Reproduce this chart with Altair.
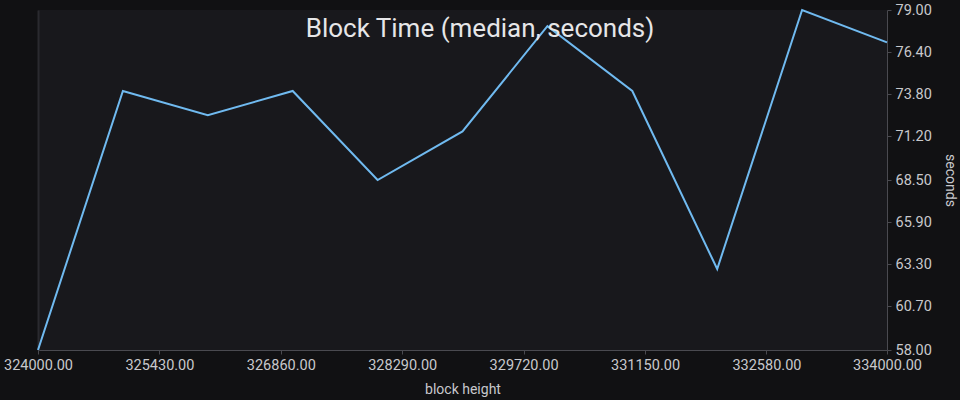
import altair as alt
import pandas as pd

block_height = [324000, 325000, 326000, 327000, 328000, 329000, 330000, 331000, 332000, 333000, 334000]
median_seconds = [58.0, 74.0, 72.5, 74.0, 68.5, 71.5, 78.0, 74.0, 63.0, 79.0, 77.0]
x_ticks = [324000, 325430, 326860, 328290, 329720, 331150, 332580, 334000]
y_ticks = [58.0, 60.7, 63.3, 65.9, 68.5, 71.2, 73.8, 76.4, 79.0]
chart_title = ["Block Time (median, seconds)"]

df = pd.DataFrame({"block": block_height, "seconds": median_seconds})
title_df = pd.DataFrame({"title": chart_title})

FONT = "Roboto"
LABEL = "#c8c8cc"
AXIS_LINE = "#4a4a50"
PAGE_BG = "#111113"

base = alt.Chart(df)

line = base.mark_line(color="#70baf0", strokeWidth=2).encode(
    x=alt.X(
        "block:Q",
        scale=alt.Scale(domain=[324000, 334000], nice=False, zero=False),
        axis=alt.Axis(
            values=x_ticks, format=".2f", title="block height",
            grid=False, domainColor=AXIS_LINE, tickColor=AXIS_LINE, tickSize=4,
            labelColor=LABEL, labelFontSize=14.5, labelFont=FONT, labelPadding=4,
            titleColor=LABEL, titleFontSize=14, titleFont=FONT, titleFontWeight="normal",
            titlePadding=11, labelFlush=False, labelOverlap=False,
        ),
    ),
    y=alt.Y(
        "seconds:Q",
        scale=alt.Scale(domain=[58, 79], nice=False, zero=False),
        axis=alt.Axis(
            orient="right", values=y_ticks, format=".2f", title="seconds",
            grid=False, domainColor=AXIS_LINE, tickColor=AXIS_LINE, tickSize=4,
            labelColor=LABEL, labelFontSize=14.5, labelFont=FONT, labelPadding=4,
            titleColor=LABEL, titleFontSize=14, titleFont=FONT, titleFontWeight="normal",
            titlePadding=11, labelFlush=False, labelOverlap=False,
        ),
    ),
)

edge = base.mark_line(opacity=0).encode(
    x=alt.X("block:Q"),
    y=alt.Y(
        "seconds:Q",
        axis=alt.Axis(orient="left", labels=False, ticks=False, grid=False,
                      title=None, domainColor="#2a2a2f", domainWidth=2),
    ),
)

title_text = alt.Chart(title_df).mark_text(
    font=FONT, fontSize=26, color="#e6e6e8", align="center", baseline="alphabetic",
).encode(
    text="title:N",
    x=alt.value(442),
    y=alt.value(27),
)

chart = (
    alt.layer(line, edge, title_text)
    .resolve_axis(y="independent")
    .properties(
        width=849,
        height=340,
        autosize=alt.AutoSizeParams(type="none"),
        padding={"left": 38, "top": 10, "right": 73, "bottom": 50},
        background=PAGE_BG,
    )
    .configure_view(fill="#18181c", stroke=None)
)


class DarkPage:
    """Standard Altair HTML template, with a dark page behind the chart."""

    def __init__(self):
        from altair.utils.html import TEMPLATES
        self.inner = TEMPLATES["standard"]

    def render(self, **kw):
        html = self.inner.render(**kw)
        css = ("<style>html,body{margin:0;padding:0;overflow:hidden;"
               "background:" + PAGE_BG + ";}</style>")
        return html.replace("</head>", css + "</head>", 1)


try:
    chart.save("out.html", embed_options={"renderer": "svg", "actions": False},
               template=DarkPage())
except Exception:
    chart.save("out.html", embed_options={"renderer": "svg", "actions": False})
